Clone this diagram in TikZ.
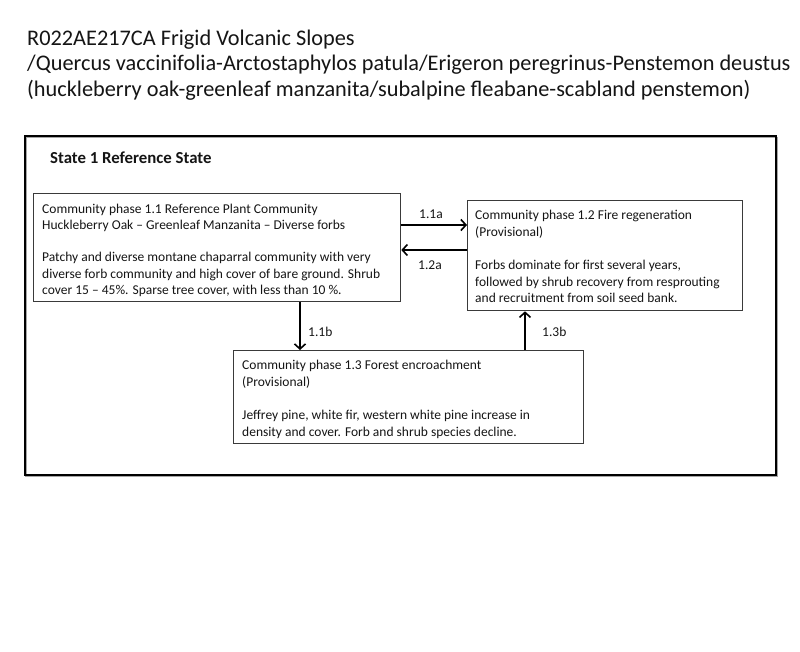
\documentclass[tikz,border=0pt]{standalone}
\usepackage{fontspec}
\setmainfont{Carlito}
\usetikzlibrary{arrows.meta}
\definecolor{txt}{HTML}{151515}
\definecolor{boxline}{HTML}{3A3A3A}
\tikzset{
  phasebox/.style={draw=boxline, line width=1.3pt, fill=white},
  statebox/.style={draw=black, line width=2.4pt},
  phasetext/.style={anchor=north west, inner sep=0pt, align=left, text=txt},
  lbl/.style={inner sep=0pt, text=txt, font=\fontsize{13.5}{16}\selectfont},
  trans/.style={draw=black, line width=1.4pt, -{Straight Barb[length=5pt,width=11pt,line width=1.6pt]}},
}
\begin{document}
\begin{tikzpicture}[x=1pt,y=-1pt]
\useasboundingbox (0,0) rectangle (800,651);
\fill[white] (0,0) rectangle (800,651);
% title
\node[anchor=north west, inner sep=0pt, align=left, text=txt,
  font=\fontsize{22.3}{25.3}\selectfont] (title) at (27,30)
  {R022AE217CA Frigid Volcanic Slopes\\
   /Quercus vaccinifolia-Arctostaphylos patula/Erigeron peregrinus-Penstemon deustus\\
   (huckleberry oak-greenleaf manzanita/subalpine fleabane-scabland penstemon)};
% state box
\draw[gray!70, line width=1.5pt] (26,137.5) rectangle (777.5,476.5);
\node[statebox, anchor=north west, minimum width=751pt, minimum height=339pt, inner sep=0pt] (state) at (24,135) {};
\node[anchor=west, inner sep=0pt, text=txt, font=\fontsize{16.8}{19}\selectfont\bfseries] (statetitle) at (50,158) {State 1 Reference State};
% phase boxes
\node[phasebox, anchor=north west, minimum width=367pt, minimum height=108pt, inner sep=0pt] (b11) at (33,193) {};
\node[phasebox, anchor=north west, minimum width=275pt, minimum height=110pt, inner sep=0pt] (b12) at (467,200) {};
\node[phasebox, anchor=north west, minimum width=350pt, minimum height=93pt, inner sep=0pt] (b13) at (233,350) {};
% texts
\node[phasetext, font=\fontsize{13.5}{16.4}\selectfont] (t11) at (42,204) {Community phase 1.1 Reference Plant Community\\
Huckleberry Oak -- Greenleaf Manzanita -- Diverse forbs\\[15.6pt]
Patchy and diverse montane chaparral community with very\\
diverse forb community and high cover of bare ground. Shrub\\
cover 15 -- 45\%. Sparse tree cover, with less than 10 \%.};
\node[phasetext, font=\fontsize{13.5}{16.5}\selectfont] (t12) at (475,210) {Community phase 1.2 Fire regeneration\\
(Provisional)\\[17pt]
Forbs dominate for first several years,\\
followed by shrub recovery from resprouting\\
and recruitment from soil seed bank.};
\node[phasetext, font=\fontsize{13.5}{16.8}\selectfont] (t13) at (242,360) {Community phase 1.3 Forest encroachment\\
(Provisional)\\[16.6pt]
Jeffrey pine, white fir, western white pine increase in\\
density and cover. Forb and shrub species decline.};
% transitions
\coordinate (ya) at (0,225);
\coordinate (yb) at (0,250);
\coordinate (xb) at (300,0);
\coordinate (xc) at (525,0);
\draw[trans] (b11.east |- ya) -- (b12.west |- ya);
\draw[trans] (b12.west |- yb) -- (b11.east |- yb);
\draw[trans] (b11.south -| xb) -- (b13.north -| xb);
\draw[trans] (b13.north -| xc) -- (b12.south -| xc);
\node[lbl] (l11a) at (431,214) {1.1a};
\node[lbl] (l12a) at (430,265) {1.2a};
\node[lbl, anchor=west] (l11b) at (308,332) {1.1b};
\node[lbl, anchor=west] (l13b) at (542,332) {1.3b};
\end{tikzpicture}
\end{document}
